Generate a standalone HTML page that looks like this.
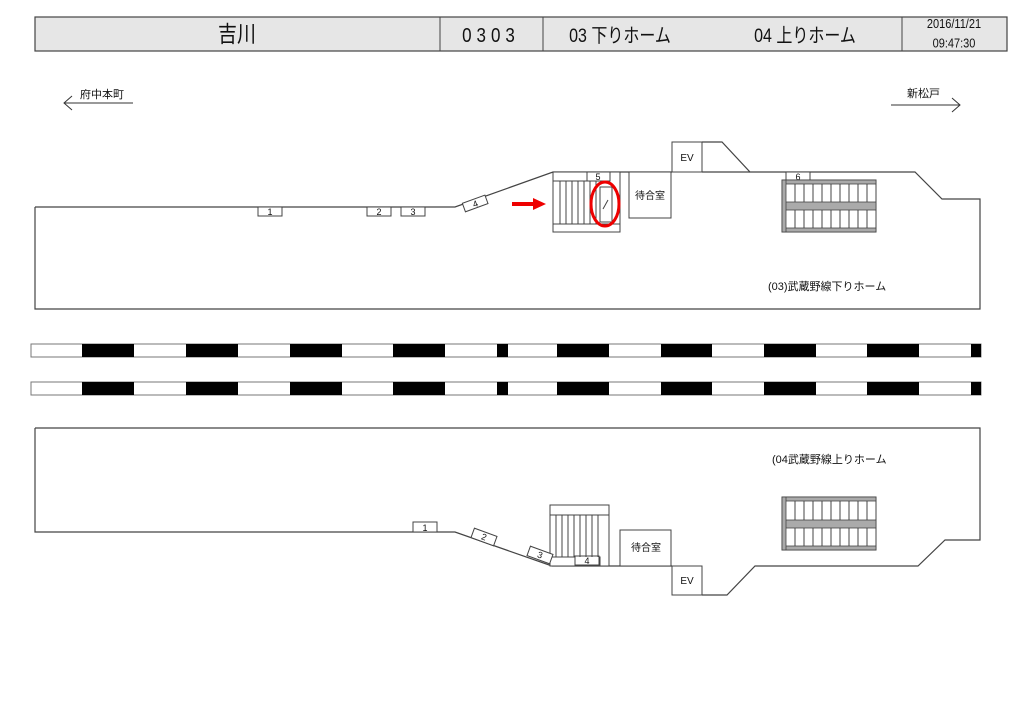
<!DOCTYPE html>
<html><head><meta charset="utf-8"><style>
body{margin:0;background:#fff;}
svg{display:block;font-family:"Liberation Sans","Noto Sans CJK JP",sans-serif;}
</style></head><body>
<svg width="1024" height="724" viewBox="0 0 1024 724" xmlns="http://www.w3.org/2000/svg">
<!-- header -->
<rect x="35" y="17" width="972" height="34" fill="#e6e6e6" stroke="#444" stroke-width="1.2"/>
<line x1="440" y1="17" x2="440" y2="51" stroke="#444"/>
<line x1="543" y1="17" x2="543" y2="51" stroke="#444"/>
<line x1="902" y1="17" x2="902" y2="51" stroke="#444"/>
<g transform="translate(0,42) scale(1,1.2)">
<text x="237" y="0" font-size="19" text-anchor="middle" fill="#111">吉川</text>
<text x="491" y="0" font-size="17" text-anchor="middle" fill="#111" letter-spacing="5">0303</text>
<text x="620" y="0" font-size="16" text-anchor="middle" fill="#111">03 下りホーム</text>
<text x="805" y="0" font-size="16" text-anchor="middle" fill="#111">04 上りホーム</text>
</g>
<text x="954" y="28" font-size="11" text-anchor="middle" fill="#111" transform="translate(0,-5) scale(1,1.18)">2016/11/21</text>
<text x="954" y="47" font-size="11" text-anchor="middle" fill="#111" transform="translate(0,-8) scale(1,1.18)">09:47:30</text>
<!-- direction arrows -->
<text x="80" y="98" font-size="11" fill="#111">府中本町</text>
<line x1="64" y1="103" x2="133" y2="103" stroke="#333"/>
<polyline points="72,96 64,103 72,110" fill="none" stroke="#333"/>
<text x="907" y="97" font-size="11" fill="#111">新松戸</text>
<line x1="891" y1="105" x2="960" y2="105" stroke="#333"/>
<polyline points="952,98 960,105 952,112" fill="none" stroke="#333"/>

<g fill="none" stroke="#444" stroke-width="1.2">
<polyline points="35,207 455,207 553,172 672,172"/>
<polyline points="702,142 722,142 750,172 915,172 942,199 980,199 980,309 35,309 35,207"/>
<line x1="702" y1="172" x2="750" y2="172"/>
<polyline points="35,428 980,428 980,540 945,540 918,566 755,566 727,595 702,595"/>
<polyline points="35,428 35,532 455,532 552,566 672,566"/>
</g>
<g fill="#fff" stroke="#444" stroke-width="1">
<rect x="258" y="207" width="24" height="9"/>
<rect x="367" y="207" width="24" height="9"/>
<rect x="401" y="207" width="24" height="9"/>
<rect x="463" y="199" width="24" height="9" transform="rotate(-20 475 203)"/>
</g>
<g font-size="9" text-anchor="middle" fill="#111">
<text x="270" y="215">1</text><text x="379" y="215">2</text><text x="413" y="215">3</text>
<text x="475" y="207" transform="rotate(-20 475 203)">4</text>
</g>
<g fill="#fff" stroke="#444" stroke-width="1">
<rect x="553" y="172" width="67" height="60"/>
<rect x="553" y="172" width="34" height="9"/>
<rect x="587" y="172" width="23" height="9"/>
<rect x="553" y="224" width="67" height="8"/>
<rect x="600" y="187" width="12" height="35"/>
<rect x="629" y="172" width="42" height="46"/>
<rect x="672" y="142" width="30" height="30"/>
</g>
<g stroke="#444" stroke-width="1">
<path d="M560,181V224M566,181V224M572,181V224M578,181V224M584,181V224M590,181V224M596,181V224"/>
<line x1="608" y1="200" x2="603" y2="209"/>
</g>
<text x="598" y="180" font-size="9" text-anchor="middle" fill="#111">5</text>
<ellipse cx="605" cy="204" rx="14" ry="22" fill="none" stroke="#e00" stroke-width="3"/>
<polygon points="512,202 533,202 533,198 546,204 533,210 533,206 512,206" fill="#e00"/>
<text x="650" y="199" font-size="10" text-anchor="middle" fill="#111">待合室</text>
<text x="687" y="161" font-size="10" text-anchor="middle" fill="#111">EV</text>
<g>
<rect x="786" y="172" width="24" height="9" fill="#fff" stroke="#444"/>
<text x="798" y="180" font-size="9" text-anchor="middle" fill="#111">6</text>
<rect x="782" y="180" width="94" height="52" fill="#fff" stroke="#444"/>
<rect x="782" y="180" width="94" height="4" fill="#aaa" stroke="#444" stroke-width="0.8"/>
<rect x="782" y="202" width="94" height="8" fill="#aaa" stroke="#444" stroke-width="0.8"/>
<rect x="782" y="228" width="94" height="4" fill="#aaa" stroke="#444" stroke-width="0.8"/>
<rect x="782" y="180" width="4" height="52" fill="#aaa" stroke="#444" stroke-width="0.8"/>
<g stroke="#444"><path d="M795,184V202M804,184V202M813,184V202M822,184V202M831,184V202M840,184V202M849,184V202M858,184V202M867,184V202M795,210V228M804,210V228M813,210V228M822,210V228M831,210V228M840,210V228M849,210V228M858,210V228M867,210V228"/></g>
</g>
<text x="768" y="290" font-size="11" fill="#111">(03)武蔵野線下りホーム</text>
<g>
<rect x="31" y="344" width="950" height="13" fill="#fff" stroke="#777"/>
<rect x="31" y="382" width="950" height="13" fill="#fff" stroke="#777"/>
<g fill="#000">
<path d="M82,344h52v13h-52zM186,344h52v13h-52zM290,344h52v13h-52zM393,344h52v13h-52zM497,344h11v13h-11zM557,344h52v13h-52zM661,344h51v13h-51zM764,344h52v13h-52zM867,344h52v13h-52zM971,344h10v13h-10z"/>
<path d="M82,382h52v13h-52zM186,382h52v13h-52zM290,382h52v13h-52zM393,382h52v13h-52zM497,382h11v13h-11zM557,382h52v13h-52zM661,382h51v13h-51zM764,382h52v13h-52zM867,382h52v13h-52zM971,382h10v13h-10z"/>
</g>
</g>
<text x="772" y="463" font-size="11" fill="#111">(04武蔵野線上りホーム</text>
<g>
<rect x="782" y="497" width="94" height="53" fill="#fff" stroke="#444"/>
<rect x="782" y="497" width="94" height="4" fill="#aaa" stroke="#444" stroke-width="0.8"/>
<rect x="782" y="520" width="94" height="8" fill="#aaa" stroke="#444" stroke-width="0.8"/>
<rect x="782" y="546" width="94" height="4" fill="#aaa" stroke="#444" stroke-width="0.8"/>
<rect x="782" y="497" width="4" height="53" fill="#aaa" stroke="#444" stroke-width="0.8"/>
<g stroke="#444"><path d="M795,501V520M804,501V520M813,501V520M822,501V520M831,501V520M840,501V520M849,501V520M858,501V520M867,501V520M795,528V546M804,528V546M813,528V546M822,528V546M831,528V546M840,528V546M849,528V546M858,528V546M867,528V546"/></g>
</g>
<g fill="#fff" stroke="#444" stroke-width="1">
<rect x="550" y="505" width="59" height="61"/>
<rect x="550" y="505" width="59" height="10"/>
<rect x="550" y="557" width="50" height="9"/>
<rect x="575" y="556" width="24" height="9"/>
<rect x="620" y="530" width="51" height="36"/>
<rect x="672" y="566" width="30" height="29"/>
<rect x="413" y="522" width="24" height="10"/>
<rect x="472" y="532" width="24" height="10" transform="rotate(20 484 537)"/>
<rect x="528" y="550" width="24" height="10" transform="rotate(20 540 555)"/>
</g>
<g stroke="#444"><path d="M556,515V557M562,515V557M568,515V557M574,515V557M580,515V557M586,515V557M592,515V557M598,515V557"/></g>
<g font-size="9" text-anchor="middle" fill="#111">
<text x="425" y="531">1</text>
<text x="484" y="540" transform="rotate(20 484 537)">2</text>
<text x="540" y="558" transform="rotate(20 540 555)">3</text>
<text x="587" y="564">4</text>
</g>
<text x="646" y="551" font-size="10" text-anchor="middle" fill="#111">待合室</text>
<text x="687" y="584" font-size="10" text-anchor="middle" fill="#111">EV</text>
</svg>
</body></html>
